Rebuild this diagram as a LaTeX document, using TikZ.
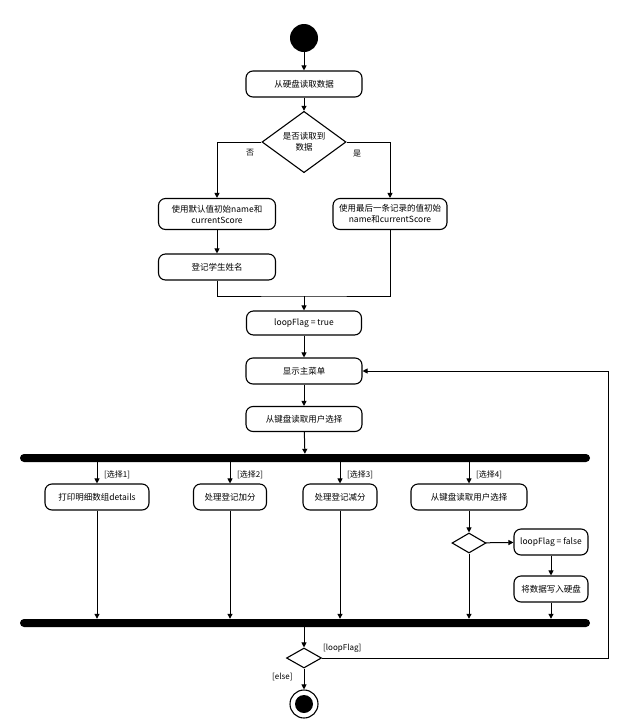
\documentclass[tikz,border=0pt]{standalone}
\usepackage{fontspec}
\setmainfont{Noto Sans CJK SC}
\usetikzlibrary{arrows.meta,positioning,shapes.geometric}
\tikzset{
  >={Triangle[length=5pt,width=5pt]},
  act/.style={draw,line width=1.1pt,rounded corners=7pt,minimum height=26,
    minimum width=#1,align=center,font=\fontsize{8.5}{11}\selectfont,inner sep=2pt},
  act/.default=116,
  dec/.style={draw,diamond,line width=1.1pt,inner sep=0pt,
    font=\fontsize{8.5}{11}\selectfont,align=center},
  bar/.style={fill=black,rounded corners=4pt,minimum height=8,minimum width=570,inner sep=0pt},
  flow/.style={->,line width=1pt},
  guard/.style={font=\fontsize{8}{10}\selectfont,anchor=west,inner sep=1pt},
}

\begin{document}
\begin{tikzpicture}[x=1pt,y=-1pt]
  \useasboundingbox[fill=white] (0,0) rectangle (626,724);
  % init part
  \node[circle,fill=black,minimum size=28,inner sep=0pt] (start) at (304,38) {};
  \node[act] (readDisk) at (304,84) {从硬盘读取数据};
  \node[dec,minimum width=84,minimum height=44] (hasData) at (304,142) {是否读取到\\数据};
  \node[act=117,minimum height=31] (initDefault) at (217,214) {使用默认值初始name和\\currentScore};
  \node[act=114,minimum height=31] (initLast) at (390,214) {使用最后一条记录的值初始\\name和currentScore};
  \node[act=117] (regName) at (217,267) {登记学生姓名};
  \node[act=115,minimum height=24] (loopTrue) at (304,323) {loopFlag = true};
  \node[act] (mainMenu) at (304,371) {显示主菜单};
  \node[act,minimum height=25] (readChoice) at (304,419) {从键盘读取用户选择};
  \draw[flow] (start) -- (readDisk);
  \draw[flow] (readDisk) -- (hasData);
  \draw[flow] (hasData.west) -| (initDefault.north);
  \draw[flow] (hasData.east) -| (initLast.north);
  \node[guard] (no) at (245,153) {否};
  \node[guard] (yes) at (352,154) {是};
  \draw[flow] (initDefault) -- (regName);
  \coordinate (merge) at (304,296);
  \draw[line width=1pt] (regName.south) |- (merge) -| (initLast.south);
  \draw[flow] (merge) -- (loopTrue);
  \draw[flow] (loopTrue) -- (mainMenu);
  \draw[flow] (mainMenu) -- (readChoice);

  % fork / join
  \node[bar] (fork) at (305,458) {};
  \node[bar] (join) at (305,623) {};
  \draw[flow] (readChoice) -- (fork);
  \node[act=104] (printDetails) at (97,497) {打印明细数组details};
  \node[act=73] (addScore) at (230,497) {处理登记加分};
  \node[act=74] (subScore) at (340,497) {处理登记减分};
  \node[act=116] (readChoice2) at (469,497) {从键盘读取用户选择};
  \foreach \n/\g in {printDetails/1,addScore/2,subScore/3,readChoice2/4} {
    \draw[flow] (fork.south -| \n) -- (\n.north);
    \node[guard] at ([xshift=6,yshift=-13]fork.south -| \n) {[选择\g]};
  }
  \node[dec,minimum width=34,minimum height=20] (chk) at (469,543) {};
  \node[act=74] (loopFalse) at (551,542) {loopFlag = false};
  \node[act=74] (writeDisk) at (551,589) {将数据写入硬盘};
  \draw[flow] (readChoice2) -- (chk);
  \draw[flow] (chk) -- (loopFalse);
  \draw[flow] (loopFalse) -- (writeDisk);
  \foreach \n in {printDetails,addScore,subScore,chk,writeDisk}
    \draw[flow] (\n.south) -- (join.north -| \n);

  % loop check and end
  \node[dec,minimum width=35,minimum height=20] (loopChk) at (304,658) {};
  \node[circle,draw,line width=1.1pt,minimum size=28,inner sep=0pt] (stop) at (304,704) {};
  \fill (stop) circle (9);
  \draw[flow] (join.south -| loopChk) -- (loopChk.north);
  \draw[flow] (loopChk.south) -- (stop);
  \node[guard] (elseLbl) at (271,677) {[else]};
  \node[guard] (loopLbl) at (322,648) {[loopFlag]};
  \coordinate (backR) at (608,658);
  \draw[flow] (loopChk.east) -- (backR) |- (mainMenu.east);
\end{tikzpicture}
\end{document}
